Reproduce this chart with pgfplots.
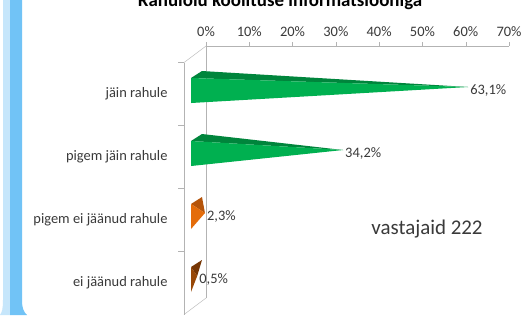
\documentclass[border=0pt]{standalone}
\usepackage{pgfplots}
\pgfplotsset{compat=1.18}
\usepackage{fontspec}
\setmainfont{Carlito}
\definecolor{gridgray}{HTML}{B3B3B3}
\definecolor{txt}{HTML}{3A3A3A}
\definecolor{greenF}{HTML}{00B050}
\definecolor{greenT}{HTML}{00853C}
\definecolor{orangeF}{HTML}{E46C0A}
\definecolor{orangeT}{HTML}{B5540A}
\definecolor{brownF}{HTML}{984807}
\definecolor{brownT}{HTML}{763605}
\definecolor{lightblue}{HTML}{C6E6FB}
\definecolor{medblue}{HTML}{71C3F6}
\newcommand\lbl{\fontsize{14.5}{17}\selectfont}
% #1 row, #2 value, #3 front colour, #4 top colour, #5 label
\newcommand\pyramid[5]{%
  \pgfmathsetmacro\tx{#2-2.541}%
  \pgfmathsetmacro\ya{#1-0.008}%
  \pgfmathsetmacro\yb{#1-0.405}%
  \pgfmathsetmacro\yc{#1+0.103}%
  \pgfmathsetmacro\yt{#1-0.151}%
  \pgfmathsetmacro\lx{#2-2.08}%
  \pgfmathsetmacro\ly{#1-0.2}%
  \edef\doit{%
    \noexpand\addplot[fill=#4,draw=none,forget plot] coordinates {(-3.465,\ya) (-0.924,\yc) (\tx,\yt)};
    \noexpand\addplot[fill=#3,draw=none,forget plot] coordinates {(-3.465,\ya) (-3.465,\yb) (\tx,\yt)};
    \noexpand\node[anchor=west,inner sep=0pt,font=\noexpand\lbl,text=txt] at (axis cs:\lx,\ly) {#5};
  }\doit}
\begin{document}
\begin{tikzpicture}[x=1bp,y=1bp]
\useasboundingbox (0,0) rectangle (526,315);
\begin{scope}
\clip (0,0) rectangle (526,315);
\fill[white] (0,0) rectangle (526,315);
% left frame stripes
\fill[lightblue] (3,315) -- (3,15) .. controls (3,6) and (2,3) .. (0,0) -- (10,0) -- (10,315) -- cycle;
\fill[medblue] (10,315) -- (10,0) -- (27,0) .. controls (24,3) and (22,6) .. (22,15) -- (22,315) -- cycle;
% title
\node[font=\bfseries\fontsize{19}{22}\selectfont, anchor=base] at (280,309) {Rahulolu koolituse informatsiooniga};
\node[font=\fontsize{21}{24}\selectfont, text=txt] at (427,86) {vastajaid 222};
\begin{axis}[
  at={(206bp,17bp)}, anchor=south west,
  width=303bp, height=252bp, scale only axis,
  xmin=0, xmax=70, ymin=0.5, ymax=4.5,
  clip=false,
  axis x line*=top, axis y line*=left,
  axis line style={draw=gridgray},
  xtick={0,10,...,70},
  xticklabel={\pgfmathprintnumber{\tick}\%},
  /pgf/number format/assume math mode=true,
  xtick style={draw=gridgray},
  tick align=outside,
  major tick length=4bp,
  xticklabel style={yshift=2bp},
  ytick={0.738,1.738,2.738,3.738},
  yticklabels={ei jäänud rahule, pigem ei jäänud rahule, pigem jäin rahule, jäin rahule},
  ytick style={draw=none},
  yticklabel style={xshift=-31bp},
  ticklabel style={font=\lbl, text=txt},
]
% front edge of the 3D frame
\draw[gridgray] (axis cs:-5.083,4.238) -- (axis cs:-5.083,0.238);
\draw[gridgray] (axis cs:-5.083,4.238) -- (axis cs:0,4.5);
\draw[gridgray] (axis cs:-5.083,0.238) -- (axis cs:0,0.5);
\draw[gridgray] (axis cs:-5.083,4.238) -- (axis cs:-6.47,4.238);
\draw[gridgray] (axis cs:-5.083,3.238) -- (axis cs:-6.47,3.238);
\draw[gridgray] (axis cs:-5.083,2.238) -- (axis cs:-6.47,2.238);
\draw[gridgray] (axis cs:-5.083,1.238) -- (axis cs:-6.47,1.238);
\pyramid{4}{63.1}{greenF}{greenT}{63,1\%}
\pyramid{3}{34.2}{greenF}{greenT}{34,2\%}
\pyramid{2}{2.3}{orangeF}{orangeT}{2,3\%}
\pyramid{1}{0.5}{brownF}{brownT}{0,5\%}
\end{axis}
\end{scope}
\end{tikzpicture}
\end{document}
